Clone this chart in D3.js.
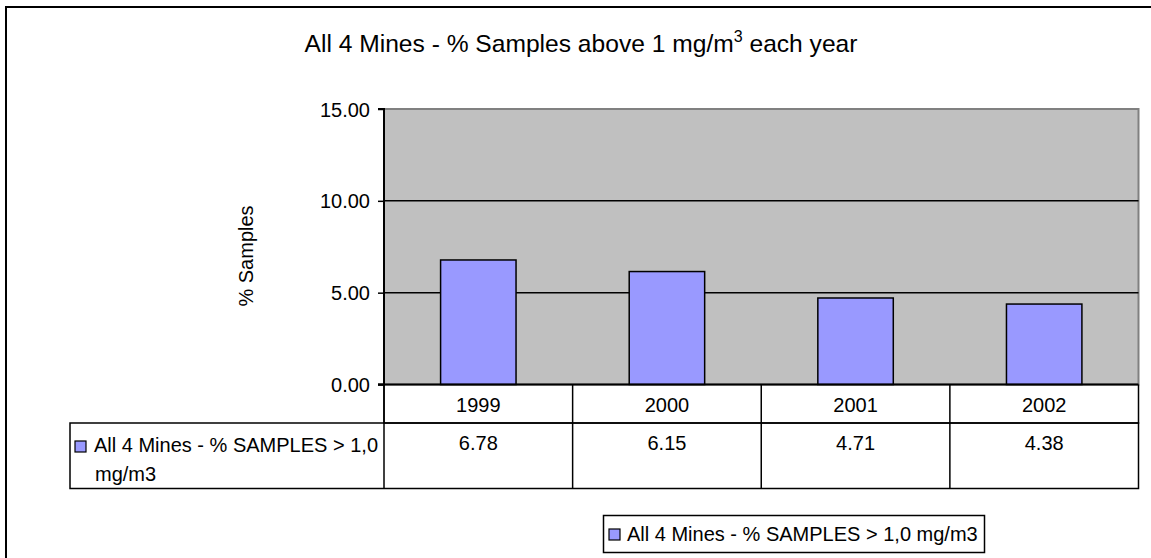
<!DOCTYPE html>
<html>
<head>
<meta charset="utf-8">
<script src="https://cdn.jsdelivr.net/npm/d3@7"></script>
<style>
  html, body { margin: 0; padding: 0; background: #fff; }
  svg { display: block; font-family: "Liberation Sans", Arial, sans-serif; }
</style>
</head>
<body>
<svg id="chart" width="1151" height="558"></svg>
<script>
// ---- data ----
const categories = ["1999", "2000", "2001", "2002"];
const values = [6.78, 6.15, 4.71, 4.38];
const valueLabels = ["6.78", "6.15", "4.71", "4.38"];
const yTicks = [0, 5, 10, 15];
const seriesName = "All 4 Mines - % SAMPLES > 1,0 mg/m3";
const seriesNameLines = ["All 4 Mines - % SAMPLES > 1,0", "mg/m3"];
const titleMain = "All 4 Mines - % Samples above 1 mg/m";
const titleSup = "3";
const titleEnd = " each year";
const yTitle = "% Samples";

// ---- layout ----
const svg = d3.select("#chart");
const plot = { left: 384, right: 1138.5, top: 109, bottom: 384.5 };
const tableLeft = 70, row1Bottom = 423, row2Bottom = 488.5;
const barColor = "#9999FF";

const x = d3.scaleBand().domain(categories).range([plot.left, plot.right]).padding(0);
const y = d3.scaleLinear().domain([0, 15]).range([plot.bottom, plot.top]);

// outer frame (cut off at right & bottom)
svg.append("rect").attr("x", 6).attr("y", 7).attr("width", 1300).attr("height", 700)
  .attr("fill", "none").attr("stroke", "#000").attr("stroke-width", 2);

// title
const t = svg.append("text").attr("x", 581).attr("y", 52).attr("text-anchor", "middle")
  .attr("font-size", 24.6).attr("fill", "#000");
t.append("tspan").text(titleMain);
t.append("tspan").attr("font-size", 16).attr("dy", -10).text(titleSup);
t.append("tspan").attr("dy", 10).text(titleEnd);

// plot background
svg.append("rect").attr("x", plot.left).attr("y", plot.top)
  .attr("width", plot.right - plot.left).attr("height", plot.bottom - plot.top)
  .attr("fill", "#C0C0C0").attr("stroke", "#808080").attr("stroke-width", 2);

// gridlines
svg.append("g").selectAll("line").data(yTicks.filter(d => d > 0 && d < 15)).join("line")
  .attr("x1", plot.left).attr("x2", plot.right)
  .attr("y1", d => y(d)).attr("y2", d => y(d))
  .attr("stroke", "#000").attr("stroke-width", 1.5);

// bars
const bw = x.bandwidth() * 0.4;
svg.append("g").selectAll("rect").data(values).join("rect")
  .attr("x", (d, i) => x(categories[i]) + (x.bandwidth() - bw) / 2)
  .attr("width", bw)
  .attr("y", d => y(d))
  .attr("height", d => y(0) - y(d))
  .attr("fill", barColor).attr("stroke", "#000").attr("stroke-width", 1.5);

// y axis
const yAxis = d3.axisLeft(y).tickValues(yTicks).tickFormat(d3.format(".2f")).tickSize(6).tickPadding(8);
const ga = svg.append("g").attr("transform", `translate(${plot.left},0)`).call(yAxis);
ga.select(".domain").attr("stroke", "#000").attr("stroke-width", 2).attr("d", `M-6,${y(15)}H0V${y(0)}H-6`);
ga.selectAll(".tick line").attr("stroke", "#000").attr("stroke-width", 1.5);
ga.selectAll(".tick text").attr("font-size", 20).attr("fill", "#000")
  .attr("font-family", "Liberation Sans, Arial, sans-serif").attr("dy", "0.35em");

// zero line / x axis
svg.append("line").attr("x1", plot.left - 6).attr("x2", plot.right)
  .attr("y1", y(0)).attr("y2", y(0)).attr("stroke", "#000").attr("stroke-width", 2);

// y title
svg.append("text").attr("transform", "translate(253,256) rotate(-90)")
  .attr("text-anchor", "middle").attr("font-size", 20).attr("fill", "#000").text(yTitle);

// ---- data table ----
const tg = svg.append("g").attr("stroke", "#000").attr("stroke-width", 1.5).attr("fill", "none");
// row 1 (categories)
tg.append("path").attr("d", `M${plot.left},${y(0)}V${row1Bottom}H${plot.right}V${y(0)}`);
// row 2 (values)
tg.append("rect").attr("x", tableLeft).attr("y", row1Bottom)
  .attr("width", plot.right - tableLeft).attr("height", row2Bottom - row1Bottom);
// column separators
tg.selectAll("line.sep").data(categories.slice(1)).join("line").attr("class", "sep")
  .attr("x1", d => x(d)).attr("x2", d => x(d)).attr("y1", y(0)).attr("y2", row2Bottom);
tg.append("line").attr("x1", plot.left).attr("x2", plot.left).attr("y1", y(0)).attr("y2", row2Bottom);

// category labels
svg.append("g").selectAll("text").data(categories).join("text")
  .attr("x", d => x(d) + x.bandwidth() / 2).attr("y", 411.5)
  .attr("text-anchor", "middle").attr("font-size", 20).attr("fill", "#000").text(d => d);
// value labels
svg.append("g").selectAll("text").data(valueLabels).join("text")
  .attr("x", (d, i) => x(categories[i]) + x.bandwidth() / 2).attr("y", 450)
  .attr("text-anchor", "middle").attr("font-size", 20).attr("fill", "#000").text(d => d);
// row header key + label
svg.append("rect").attr("x", 75).attr("y", 441).attr("width", 11).attr("height", 11)
  .attr("fill", barColor).attr("stroke", "#000").attr("stroke-width", 1.2);
svg.append("g").selectAll("text").data(seriesNameLines).join("text")
  .attr("x", (d, i) => i === 0 ? 94 : 95).attr("y", (d, i) => 452 + i * 29)
  .attr("font-size", 20).attr("fill", "#000").text(d => d);

// ---- legend ----
svg.append("rect").attr("x", 603.5).attr("y", 515.5).attr("width", 381).attr("height", 37)
  .attr("fill", "#fff").attr("stroke", "#000").attr("stroke-width", 1.5);
svg.append("rect").attr("x", 609).attr("y", 529).attr("width", 11).attr("height", 11)
  .attr("fill", barColor).attr("stroke", "#000").attr("stroke-width", 1.2);
svg.append("text").attr("x", 627).attr("y", 541).attr("font-size", 20).attr("fill", "#000").text(seriesName);
</script>
</body>
</html>
